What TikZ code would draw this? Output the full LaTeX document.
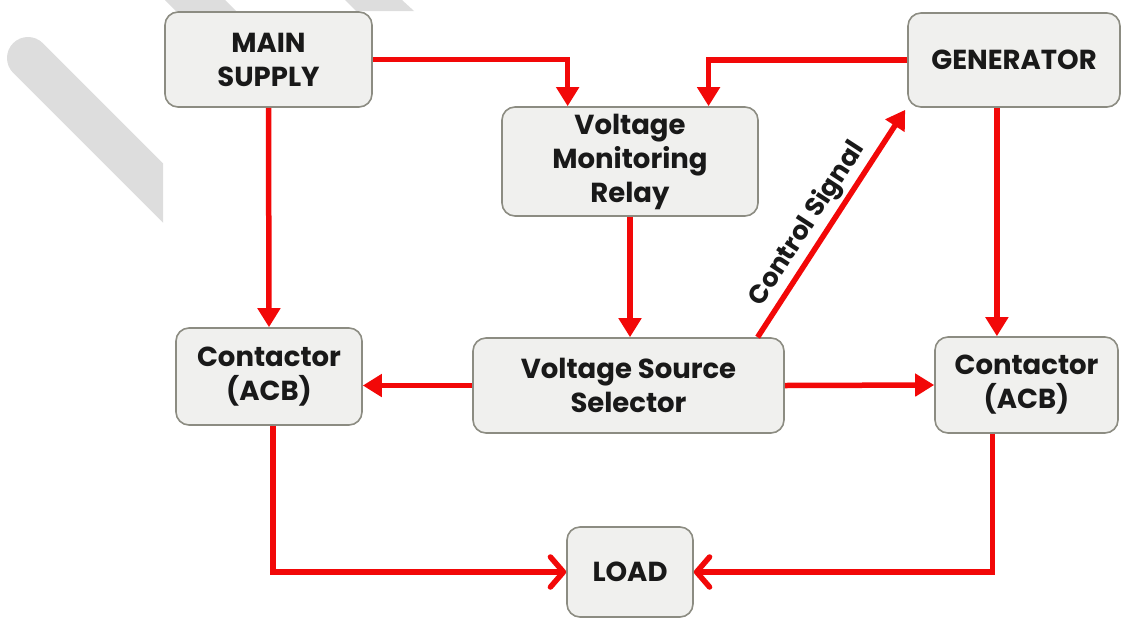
\documentclass[tikz,border=0pt]{standalone}
\usepackage{fontspec}
\setmainfont{Poppins}
\usetikzlibrary{arrows.meta,calc}
\definecolor{boxfill}{RGB}{240,240,238}
\definecolor{boxline}{RGB}{140,140,130}
\definecolor{wire}{RGB}{242,8,8}
\definecolor{stripe}{RGB}{221,221,221}
\definecolor{txt}{RGB}{25,25,25}
\begin{document}
\begin{tikzpicture}[x=1pt,y=-1pt,
  blk/.style={draw=boxline,line width=1.6pt,fill=boxfill,rounded corners=13pt,
    align=center,inner sep=0pt,text=txt,
    font=\fontsize{27.5}{34}\selectfont\bfseries},
  wirea/.style={draw=wire,line width=5.5pt,
    -{Triangle[length=19pt,width=22pt]}},
  wireb/.style={draw=wire,line width=5.5pt,line join=miter,
    -{Straight Barb[length=13pt,width=30pt,line cap=round,line join=round]}}]
\useasboundingbox (0,0) rectangle (1121,619);
% background stripes
\begin{scope}
\clip (0,0) rectangle (163,619);
\draw[stripe,line width=42pt,line cap=round] (28,58) -- (260,290);
\end{scope}
\fill[stripe] (165,0) -- (225,0) -- (236,11) -- (176,11) -- cycle;
\fill[stripe] (345,0) -- (402,0) -- (414,11) -- (356,11) -- cycle;
% boxes
\node[blk,minimum width=207pt,minimum height=95pt] (main) at (268.5,59.5) {MAIN\\SUPPLY};
\node[blk,minimum width=256pt,minimum height=109pt] (vmr) at (630,161.5) {Voltage\\Monitoring\\Relay};
\node[blk,minimum width=212pt,minimum height=94pt] (gen) at (1014,60) {GENERATOR};
\node[blk,minimum width=186pt,minimum height=97pt] (ctl) at (269,376.5) {Contactor\\(ACB)};
\node[blk,minimum width=311pt,minimum height=95pt] (vss) at (628.5,385.5) {Voltage Source\\Selector};
\node[blk,minimum width=183pt,minimum height=96pt] (ctr) at (1026.5,385) {Contactor\\(ACB)};
\node[blk,minimum width=126pt,minimum height=90pt] (load) at (630,572) {LOAD};
% anchor points
\coordinate (vmrA) at ($(vmr.north west)!0.258!(vmr.north east)$);
\coordinate (vmrB) at ($(vmr.north west)!0.805!(vmr.north east)$);
\coordinate (vssC) at ($(vss.north west)!0.913!(vss.north east)$);
\coordinate (genD) at ($(gen.south west)!0.42!(gen.south east)$);
\coordinate (ctrE) at ($(ctr.south west)!0.317!(ctr.south east)$);
% connectors
\draw[wirea] (main.east) -| (vmrA);
\draw[wirea] (gen.west) -| (vmrB);
\draw[wirea] (vmr.south) -- (vmr.south |- vss.north);
\draw[wirea] (main.south) -- (ctl.north);
\draw[wirea] (vss.west) -- (ctl.east |- vss.west);
\draw[wirea] (vss.east) -- (ctr.west);
\draw[wirea] (genD) -- (genD |- ctr.north);
\draw[wirea] (vssC) -- node[pos=0.45,sloped,above=2pt,text=txt,inner sep=1pt,
  font=\fontsize{26}{30}\selectfont\bfseries] (cs) {Control Signal} ($(gen.south west)+(-2,2)$);
\draw[wireb] ($(ctl.south)+(4,0)$) |- (load.west);
\draw[wireb] (ctrE) |- (load.east);
\end{tikzpicture}
\end{document}
